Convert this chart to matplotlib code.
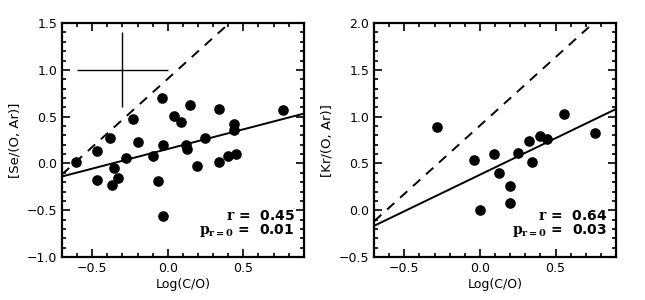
import numpy as np
import matplotlib
matplotlib.use('Agg')
import matplotlib.pyplot as plt
from matplotlib.ticker import MultipleLocator

# Se panel data
se_x = [-0.607, -0.467, -0.467, -0.384, -0.356, -0.371, -0.329, -0.278, -0.233, -0.200,
        -0.096, -0.067, -0.036, -0.029, -0.029, 0.044, 0.091, 0.118, 0.127, 0.149,
        0.193, 0.249, 0.340, 0.338, 0.396, 0.440, 0.440, 0.451, 0.762]
se_y = [0.018, 0.130, -0.180, 0.270, -0.050, -0.230, -0.150, 0.060, 0.475, 0.230,
        0.080, -0.190, 0.700, 0.200, -0.556, 0.510, 0.447, 0.194, 0.160, 0.627,
        -0.028, 0.270, 0.018, 0.577, 0.085, 0.420, 0.356, 0.106, 0.570]

# Kr panel data
kr_x = [-0.284, -0.036, 0.000, 0.093, 0.129, 0.196, 0.202, 0.249, 0.322, 0.342,
        0.398, 0.444, 0.558, 0.764]
kr_y = [0.89, 0.54, 0.00, 0.60, 0.40, 0.26, 0.08, 0.61, 0.74, 0.52,
        0.79, 0.766, 1.03, 0.83]

# fitted lines (slope, intercept)
se_fit = (0.42, 0.155)
kr_fit = (0.78, 0.38)
dash_fit = (1.46, 0.905)

se_stats = ('0.45', '0.01')
kr_stats = ('0.64', '0.03')

# typical error bar
err_x, err_y, err_dx, err_dy = -0.3, 1.0, 0.3, 0.4

plt.rcParams['font.family'] = 'DejaVu Sans'
plt.rcParams['mathtext.fontset'] = 'dejavuserif'
fig = plt.figure(figsize=(6.45, 3.0), dpi=100)
ax1 = fig.add_axes([0.096, 0.143, 0.375, 0.78])
ax2 = fig.add_axes([0.580, 0.143, 0.375, 0.78])

xl = np.array([-0.7, 0.9])

def style(ax, ylim, ylabel):
    ax.set_xlim(-0.7, 0.9)
    ax.set_ylim(*ylim)
    ax.xaxis.set_major_locator(MultipleLocator(0.5))
    ax.xaxis.set_minor_locator(MultipleLocator(0.1))
    ax.yaxis.set_major_locator(MultipleLocator(0.5))
    ax.yaxis.set_minor_locator(MultipleLocator(0.1))
    ax.tick_params(which='both', direction='in', top=True, right=True, labelsize=9, width=1.2)
    ax.tick_params(which='major', length=6)
    ax.tick_params(which='minor', length=3)
    fmt = plt.FuncFormatter(lambda v, p: f'{v:.1f}'.replace('-', '\u2212'))
    ax.xaxis.set_major_formatter(fmt)
    ax.yaxis.set_major_formatter(fmt)
    for s in ax.spines.values():
        s.set_linewidth(1.6)
    ax.set_xlabel('Log(C/O)', fontsize=9, labelpad=2)
    ax.set_ylabel(ylabel, fontsize=9.5, labelpad=4)

def stats(ax, r, p, yr, yp):
    ax.text(0.84, yr, r'$\mathbf{r}$ =  ' + r, ha='right', va='center', fontsize=10,
            fontweight='bold')
    ax.text(0.84, yp, r'$\mathbf{p_{r=0}}$ =  ' + p, ha='right', va='center', fontsize=10,
            fontweight='bold')

# left panel
ax1.scatter(se_x, se_y, s=44, color='black', zorder=3)
ax1.plot(xl, se_fit[0] * xl + se_fit[1], color='black', lw=1.4)
ax1.plot(xl, dash_fit[0] * xl + dash_fit[1], color='black', lw=1.4, dashes=(5, 4))
ax1.errorbar([err_x], [err_y], xerr=[err_dx], yerr=[err_dy], color='black', lw=1.0, capsize=0)
style(ax1, (-1.0, 1.5), '[Se/(O, Ar)]')
stats(ax1, *se_stats, -0.56, -0.72)

# right panel
ax2.scatter(kr_x, kr_y, s=44, color='black', zorder=3)
ax2.plot(xl, kr_fit[0] * xl + kr_fit[1], color='black', lw=1.4)
ax2.plot(xl, dash_fit[0] * xl + dash_fit[1], color='black', lw=1.4, dashes=(5, 4))
style(ax2, (-0.5, 2.0), '[Kr/(O, Ar)]')
stats(ax2, *kr_stats, -0.06, -0.22)

fig.savefig('out.png', dpi=100)
